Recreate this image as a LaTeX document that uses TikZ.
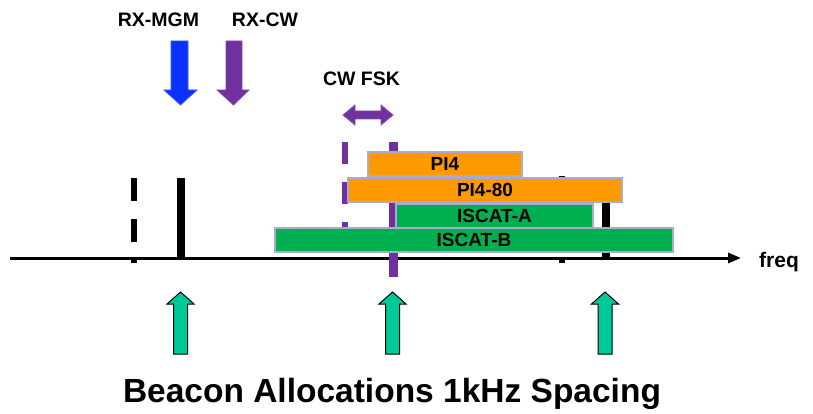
\documentclass[tikz,border=0pt]{standalone}
\usepackage{fontspec}
\setmainfont{Liberation Sans}
\usetikzlibrary{arrows.meta}
\definecolor{pptorange}{RGB}{255,153,0}
\definecolor{pptgreen}{RGB}{0,176,80}
\definecolor{pptpurple}{RGB}{112,48,160}
\definecolor{pptblue}{RGB}{10,50,255}
\definecolor{pptteal}{RGB}{0,200,150}
\definecolor{boxedge}{RGB}{170,170,205}
\begin{document}
\begin{tikzpicture}[x=1pt,y=-1pt,
  band/.style={draw=boxedge,line width=1.5pt,rectangle,inner sep=0pt,
    font=\fontsize{19}{21}\selectfont\bfseries,text height=13.5pt,text depth=0pt},
  lbl/.style={font=\fontsize{19.5}{21}\selectfont\bfseries,inner sep=0pt,anchor=base},
  upar/.style={fill=pptteal,draw=black,line width=1pt,line join=miter},
  marker/.style={line width=#1,line cap=butt}]
\useasboundingbox (0,0) rectangle (813,414);
% axis
\coordinate (axL) at (10,258);
\coordinate (axR) at (741,258);
\draw[line width=3pt,-{Triangle[length=13pt,width=10pt]}] (axL) -- (axR);
\node[lbl,anchor=base west,font=\fontsize{21}{23}\selectfont\bfseries] (freq) at (759,267) {freq};
% carrier markers (behind bands)
\draw[marker=6pt,dash pattern=on 23pt off 18pt] (134,178) -- (134,263);
\draw[marker=8pt] (181,178) -- (181,258);
\draw[marker=6pt,dash pattern=on 23pt off 18pt] (562,176) -- (562,263);
\draw[marker=8pt] (606,178) -- (606,258);
\draw[marker=6pt,pptpurple,dash pattern=on 22pt off 18pt] (345,142) -- (345,250);
\draw[marker=9pt,pptpurple] (393,142) -- (393,277);
% bands
\node[band,fill=pptorange,minimum width=154pt,minimum height=24pt] (pi4) at (445,164) {PI4};
\node[band,fill=pptorange,minimum width=274pt,minimum height=24pt] (pi480) at (485,190) {PI4-80};
\node[band,fill=pptgreen,minimum width=197pt,minimum height=24pt] (iscata) at (494.5,216) {ISCAT-A};
\node[band,fill=pptgreen,minimum width=398pt,minimum height=24pt] (iscatb) at (474,240) {ISCAT-B};
% top labels
\node[lbl] (rxmgm) at (158.5,27) {RX-MGM};
\node[lbl] (rxcw) at (265,27) {RX-CW};
\node[lbl] (cwfsk) at (361.5,86) {CW FSK};
% down arrows
\draw[fill=pptblue,draw=pptblue!80!white,line width=0.8pt]
  (171,41) -- (188,41) -- (188,90) -- (197,90) -- (180.5,105) -- (164,90) -- (171,90) -- cycle;
\draw[fill=pptpurple,draw=pptpurple!85!white,line width=0.8pt]
  (226,41) -- (242,41) -- (242,90) -- (249,90) -- (233.5,105) -- (217,90) -- (226,90) -- cycle;
% double arrow
\draw[fill=pptpurple,draw=pptpurple!85!white,line width=0.8pt]
  (343,115) -- (355,105) -- (355,111) -- (381,111) -- (381,105) -- (393,115)
  -- (381,125) -- (381,119) -- (355,119) -- (355,125) -- cycle;
% up arrows
\foreach \cx in {180.5,392.5,605} {
  \draw[upar] (\cx-7,354) -- (\cx+7,354) -- (\cx+7,304) -- (\cx+13.5,304)
    -- (\cx,292) -- (\cx-13.5,304) -- (\cx-7,304) -- cycle;
}
% title
\node[lbl,font=\fontsize{33.5}{36}\selectfont\bfseries] (title) at (392,402) {Beacon Allocations 1kHz Spacing};
\end{tikzpicture}
\end{document}
